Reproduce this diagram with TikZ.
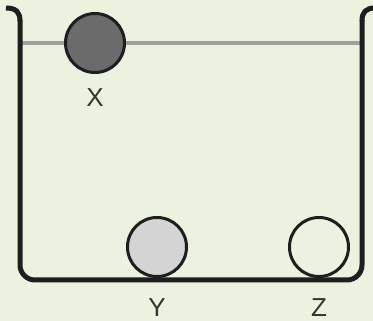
\documentclass[tikz,border=0pt]{standalone}
\usepackage{fontspec}
\setmainfont{Liberation Sans}
\definecolor{bg}{HTML}{EBF2DF}
\definecolor{ink}{HTML}{1E1E1E}
\definecolor{water}{HTML}{A0A0A0}
\definecolor{darkball}{HTML}{6B6B6B}
\definecolor{lightball}{HTML}{D4D4D4}
\begin{document}
\begin{tikzpicture}[x=1pt,y=-1pt,
  ball/.style={circle,draw=ink,line width=3pt,minimum size=59pt,inner sep=0pt},
  lbl/.style={font=\fontsize{26}{28}\selectfont,text=ink!90,inner sep=0pt}]
\fill[bg] (0,0) rectangle (373,321);
\useasboundingbox (0,0) rectangle (373,321);
% water surface
\coordinate (wl) at (22,43);
\coordinate (wr) at (360,43);
\draw[water,line width=3.5pt] (wl) -- (wr);
% container
\draw[ink,line width=5pt,line join=round]
  (6,8) .. controls (16,8) and (20,12) .. (20,21);
\draw[ink,line width=5pt,line join=round,rounded corners=15pt]
  (20,20) -- (20,280) -- (362,280) -- (362,20);
\draw[ink,line width=5pt,line join=round]
  (362,21) .. controls (362,12) and (366,8) .. (375,8);
% balls
\node[ball,fill=darkball] (X) at (95,43) {};
\node[ball,fill=lightball] (Y) at (157,247) {};
\node[ball,fill=bg] (Z) at (319,247) {};
% labels
\node[lbl] (lx) at (95,98) {X};
\node[lbl] (ly) at (157,308) {Y};
\node[lbl] (lz) at (319,308) {Z};
\end{tikzpicture}
\end{document}
